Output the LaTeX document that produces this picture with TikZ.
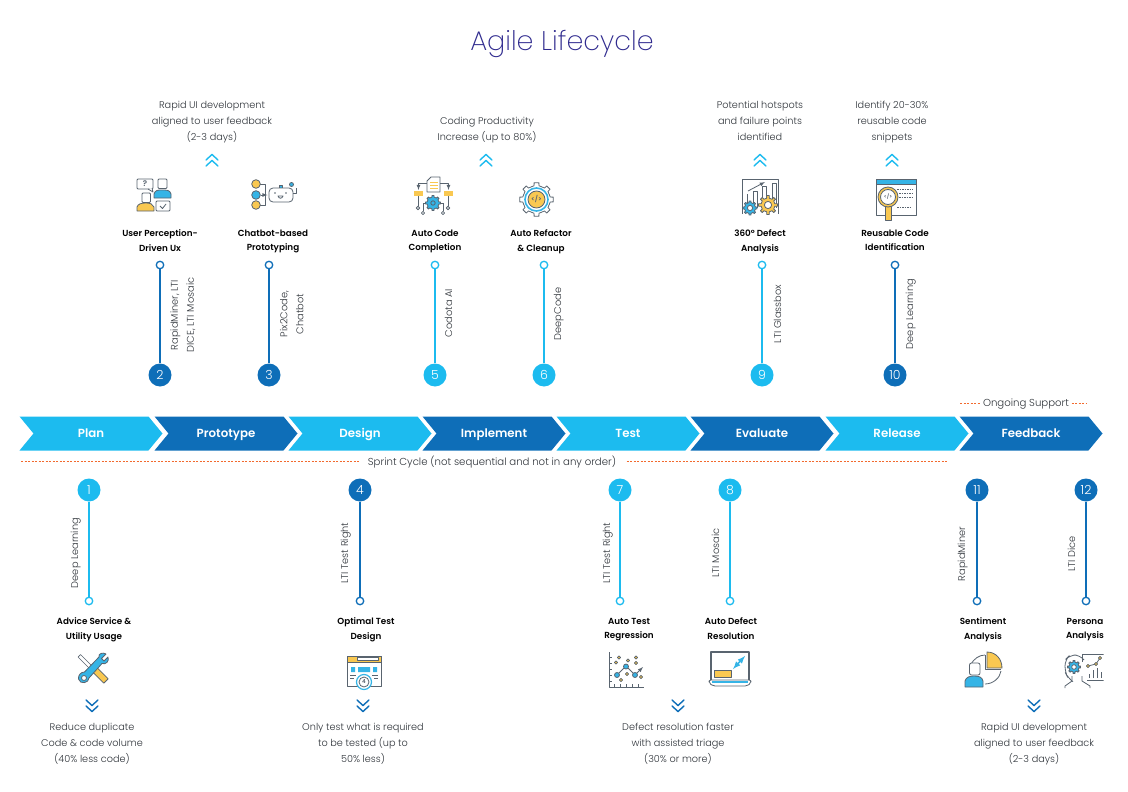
\documentclass[tikz,border=0pt]{standalone}
\usepackage{fontspec}
\setmainfont{Poppins}[UprightFont=* Light, BoldFont=* SemiBold]
\newfontfamily\titlefont{Poppins}[UprightFont=* ExtraLight]
\usetikzlibrary{shapes.symbols}

\definecolor{skyblue}{HTML}{1CBBEF}
\definecolor{deepblue}{HTML}{0E6EB8}
\definecolor{dashorange}{HTML}{F26A2E}
\definecolor{textgrey}{HTML}{2F343A}
\definecolor{icongrey}{HTML}{59646F}
\definecolor{iconblue}{HTML}{35B4E6}
\definecolor{iconyellow}{HTML}{F9C851}
\definecolor{titleblue}{HTML}{2F2A8E}

\tikzset{
	lined/.style={execute at begin node=\strut, execute at end node=\strut},
	phase/.style={signal, signal to=east, signal from=west, signal pointer angle=101,
		minimum width=143, minimum height=34, inner sep=0, outer sep=0,
		text height=8.4, text depth=0,
		text=white, font=\fontsize{11.8}{13}\selectfont\bfseries},
	num/.style={circle, fill=#1, minimum size=23, inner sep=0, text=white,
		font=\fontsize{12.5}{14}\selectfont},
	ring/.style={circle, draw=#1, fill=white, line width=1.3, minimum size=7.5, inner sep=0},
	stem/.style={draw=#1, line width=1.7},
	steptitle/.style={lined, yshift=-2, align=center, inner sep=0, text=black, font=\fontsize{8.8}{14.6}\selectfont\bfseries},
	tool/.style={lined, rotate=90, align=center, inner sep=0, text=textgrey, font=\fontsize{9.8}{16}\selectfont},
	benefit/.style={lined, yshift=-2, align=center, inner sep=0, text=textgrey, font=\fontsize{9.7}{16}\selectfont},
	note/.style={text height=7, text depth=0, text=textgrey, font=\fontsize{10.15}{12}\selectfont},
	dashline/.style={draw=dashorange, line width=0.9, dash pattern=on 2.2 off 1.3},
	chev/.style={draw=#1, line width=1.4, line cap=round, line join=miter},
	icon/.style={draw=icongrey, line width=0.8, line join=round},
	glyph/.style={inner sep=0, text=icongrey, font=\fontsize{#1}{#1}\selectfont\bfseries}
}

\newcommand{\gearshape}[5]{% x, y, inner radius, outer radius, fill
	\draw[icon, fill=#5, shift={(#1,#2)}] (-10:#3) \foreach \a in {0,45,...,315} {
		-- (\a-10:#3) -- (\a-8:#4) -- (\a+8:#4) -- (\a+10:#3) -- (\a+35:#3)} -- cycle;
}

\begin{document}
\begin{tikzpicture}[x=1pt, y=-1pt]
		\useasboundingbox (0,0) rectangle (1128,792);
		
		\node[text=titleblue, font=\fontsize{27}{30}\selectfont\titlefont] (title) at (562,43.5) {Agile Lifecycle};
		
		% Phases
		\node[phase, fill=skyblue]  (plan)      at (91,433.5)   {Plan};
		\node[phase, fill=deepblue] (prototype) at (226,433.5)  {Prototype};
		\node[phase, fill=skyblue]  (design)    at (360,433.5)  {Design};
		\node[phase, fill=deepblue] (implement) at (494,433.5)  {Implement};
		\node[phase, fill=skyblue]  (test)      at (628,433.5)  {Test};
		\node[phase, fill=deepblue] (evaluate)  at (762,433.5)  {Evaluate};
		\node[phase, fill=skyblue]  (release)   at (897,433.5)  {Release};
		\node[phase, fill=deepblue] (feedback)  at (1031,433.5) {Feedback};
		
		% Sprint cycle and ongoing support
		\coordinate (sprintL) at (21,461.5);
		\coordinate (sprintR) at (948,461.5);
		\draw[dashline] (sprintL) -- (sprintR);
		\node[note, fill=white, inner xsep=9, inner ysep=1.5] (sprint) at (492,461.5)
		{Sprint Cycle (not sequential and not in any order)};
		
		\node[note, inner xsep=2.5, inner ysep=0] (ongoing) at (1026,403) {Ongoing Support};
		\coordinate (ongoingL) at (960,403);
		\coordinate (ongoingR) at (1087,403);
		\draw[dashline] (ongoingL) -- (ongoing);
		\draw[dashline] (ongoing) -- (ongoingR);
		
		% Upper stems
		\node[num=deepblue] (n2)  at (160,375) {2};
		\node[ring=deepblue] (r2)  at (160,265) {};
		\draw[stem=deepblue] (n2) -- (r2);
		\node[num=deepblue] (n3)  at (269,375) {3};
		\node[ring=deepblue] (r3)  at (269,265) {};
		\draw[stem=deepblue] (n3) -- (r3);
		\node[num=skyblue]  (n5)  at (435,375) {5};
		\node[ring=skyblue] (r5)  at (435,265) {};
		\draw[stem=skyblue] (n5) -- (r5);
		\node[num=skyblue]  (n6)  at (544,375) {6};
		\node[ring=skyblue] (r6)  at (544,265) {};
		\draw[stem=skyblue] (n6) -- (r6);
		\node[num=skyblue]  (n9)  at (762,375) {9};
		\node[ring=skyblue] (r9)  at (762,265) {};
		\draw[stem=skyblue] (n9) -- (r9);
		\node[num=deepblue] (n10) at (895,375) {10};
		\node[ring=deepblue] (r10) at (895,265) {};
		\draw[stem=deepblue] (n10) -- (r10);
		
		% Lower stems
		\node[num=skyblue]  (n1)  at (89,490)  {1};
		\node[ring=skyblue] (r1)  at (89,601)  {};
		\draw[stem=skyblue] (n1) -- (r1);
		\node[num=deepblue] (n4)  at (360,490) {4};
		\node[ring=deepblue] (r4)  at (360,601) {};
		\draw[stem=deepblue] (n4) -- (r4);
		\node[num=skyblue]  (n7)  at (620,490) {7};
		\node[ring=skyblue] (r7)  at (620,601) {};
		\draw[stem=skyblue] (n7) -- (r7);
		\node[num=skyblue]  (n8)  at (730,490) {8};
		\node[ring=skyblue] (r8)  at (730,601) {};
		\draw[stem=skyblue] (n8) -- (r8);
		\node[num=deepblue] (n11) at (977,490) {11};
		\node[ring=deepblue] (r11) at (977,601) {};
		\draw[stem=deepblue] (n11) -- (r11);
		\node[num=deepblue] (n12) at (1086,490) {12};
		\node[ring=deepblue] (r12) at (1086,601) {};
		\draw[stem=deepblue] (n12) -- (r12);
		
		% Tools beside the stems
		\node[tool] (tool2)  at (184.5,315) {RapidMiner, LTI\\DICE, LTI Mosaic};
		\node[tool] (tool3)  at (294,314) {Pix2Code,\\Chatbot};
		\node[tool] (tool5)  at (449,313) {Codota AI};
		\node[tool] (tool6)  at (558,314) {DeepCode};
		\node[tool] (tool9)  at (778,314) {LTI Glassbox};
		\node[tool] (tool10) at (910,314) {Deep Learning};
		\node[tool] (tool1)  at (75,553)  {Deep Learning};
		\node[tool] (tool4)  at (345,553) {LTI Test Right};
		\node[tool] (tool7)  at (607,553) {LTI Test Right};
		\node[tool] (tool8)  at (716,553) {LTI Mosaic};
		\node[tool] (tool11) at (962,554) {RapidMiner};
		\node[tool] (tool12) at (1072,554) {LTI Dice};
		
		% Step titles
		\node[steptitle] (step2)  at (160,240.5) {User Perception-\\Driven Ux};
		\node[steptitle] (step3)  at (273,240.5) {Chatbot-based\\Prototyping};
		\node[steptitle] (step5)  at (435,240.5) {Auto Code\\Completion};
		\node[steptitle] (step6)  at (541,240.5) {Auto Refactor\\\& Cleanup};
		\node[steptitle] (step9)  at (760,240.5) {360° Defect\\Analysis};
		\node[steptitle] (step10) at (895,240.5) {Reusable Code\\Identification};
		\node[steptitle] (step1)  at (94,628.5)  {Advice Service \&\\Utility Usage};
		\node[steptitle] (step4)  at (366,628.5) {Optimal Test\\Design};
		\node[steptitle] (step7)  at (629,628.5) {Auto Test\\Regression};
		\node[steptitle] (step8)  at (731,628.5) {Auto Defect\\Resolution};
		\node[steptitle] (step11) at (983,628.5) {Sentiment\\Analysis};
		\begin{scope}
			\clip (1040,610) rectangle (1103.5,700);
			\node[steptitle] (step12) at (1085,628.5) {Persona\\Analysis};
		\end{scope}
		
		% Benefits, upper row
		\node[benefit] (gain2) at (212,121) {Rapid UI development\\aligned to user feedback\\(2-3 days)};
		\node[benefit] (gain5) at (487,129) {Coding Productivity\\Increase (up to 80\%)};
		\node[benefit] (gain9) at (760,121) {Potential hotspots\\and failure points\\identified};
		\node[benefit] (gain10) at (892,121) {Identify 20-30\%\\reusable code\\snippets};
		
		% Benefits, lower row
		\node[benefit] (gain1) at (92,743)  {Reduce duplicate\\Code \& code volume\\(40\% less code)};
		\node[benefit] (gain4) at (363,743) {Only test what is required\\to be tested (up to\\50\% less)};
		\node[benefit] (gain7) at (678,743) {Defect resolution faster\\with assisted triage\\(30\% or more)};
		\node[benefit] (gain11) at (1034,743) {Rapid UI development\\aligned to user feedback\\(2-3 days)};
		
		% Double chevrons
		\foreach \cx in {212,486,760,892} {
			\draw[chev=skyblue] (\cx-6,160) -- (\cx,154.5) -- (\cx+6,160);
			\draw[chev=skyblue] (\cx-6,166) -- (\cx,160.5) -- (\cx+6,166);
		}
		\foreach \cx in {92,363,678,1034} {
			\draw[chev=deepblue] (\cx-6,700) -- (\cx,705.5) -- (\cx+6,700);
			\draw[chev=deepblue] (\cx-6,706) -- (\cx,711.5) -- (\cx+6,706);
		}
		
		% User perception icon
		\draw[icon, fill=white, rounded corners=1] (137,179) rectangle (153,189);
		\draw[icon, fill=white] (148,189) -- (153,192) -- (152,188);
		\node[glyph=8] (ask) at (145,184) {?};
		\draw[icon, fill=iconblue] (154,198) -- (154,194) .. controls (155,190) and (158,190) .. (162,190) .. controls (167,190) and (170,190) .. (171,194) -- (171,198) -- cycle;
		\draw[icon, fill=white, rounded corners=1] (158,179) rectangle (167,188.5);
		\draw[icon, fill=iconyellow] (137,211) -- (137,207) .. controls (138,204) and (141,203) .. (146,203) .. controls (150,203) and (153,204) .. (154,207) -- (154,211) -- cycle;
		\draw[icon, fill=white, rounded corners=1] (142,193) rectangle (150.5,202.5);
		\draw[icon, fill=white, rounded corners=1] (156,201) rectangle (170,211);
		\draw[icon] (160,206) -- (162.5,208.5) -- (166,204);
		
		% Chatbot icon
		\draw[icon] (260,184) -- (265,184) -- (265,205) -- (260,205);
		\draw[icon, -latex] (260.5,195) -- (267.5,195);
		\draw[icon, fill=iconyellow] (256,184) circle (4.3);
		\draw[icon, fill=iconblue] (256,195) circle (4.3);
		\draw[icon, fill=iconyellow] (256,205) circle (4.3);
		\draw[icon, fill=iconblue] (279,185.5) rectangle (282,188);
		\draw[icon, fill=white, rounded corners=4] (269,188) rectangle (293,202);
		\draw[icon] (293,193) -- (296,193) -- (296,188);
		\draw[icon, fill=iconblue] (291.5,184.5) circle (2);
		\fill[icongrey] (275,193) circle (0.9) (286,193) circle (0.9);
		\draw[icon] (278,196) .. controls (279,199) and (282,199) .. (283,196) -- cycle;
		
		% Auto code icon
		\draw[icon, fill=white] (427,181) -- (431,177) -- (440,177) -- (440,192) -- (427,192) -- cycle;
		\draw[iconyellow, line width=1] (430,182) -- (437.5,182) (430,185) -- (437.5,185) (430,188) -- (437.5,188);
		\draw[icon, -latex] (427,183) -- (418.5,183) -- (418.5,190);
		\draw[icon, -latex] (440,183) -- (448.5,183) -- (448.5,190);
		\fill[iconyellow] (414,191) rectangle (423,196);
		\fill[iconyellow] (444,191) rectangle (453,196);
		\draw[icon] (418,196) -- (418,206) (423,203) -- (423,211) (443,203) -- (443,211) (448,196) -- (448,206) (423,203) -- (443,203);
		\draw[icon, fill=white] (418,208) circle (1.8) (423,213) circle (1.6) (443,213) circle (1.6) (448,208) circle (1.8);
		\gearshape{433}{203}{6}{7.5}{iconblue}
		\draw[icon, fill=iconblue] (433,203) circle (2.2);
		
		% Auto refactor icon
		\gearshape{536.5}{199.5}{14}{17}{white}
		\draw[draw=iconblue, line width=1.6, fill=white] (536.5,199.5) circle (11.5);
		\draw[icon, fill=iconyellow] (536.5,199.5) circle (8.5);
		\node[glyph=6.5] (code) at (536.5,199.5) {</>};
		
		% Defect analysis icon
		\draw[icon] (742,214) -- (742,179) -- (778,179) -- (778,214);
		\draw[icon] (747,208) -- (747,194) (753,208) -- (753,191) -- (757,191) -- (757,208) (762,200) -- (762,186) -- (766,186) -- (766,200) (772,200) -- (772,183) -- (776,183) -- (776,208);
		\draw[icon, -latex] (748,191) -- (765,182);
		\gearshape{750}{208}{5.5}{7}{iconblue}
		\draw[icon, fill=white] (750,208) circle (2.6);
		\gearshape{768}{205}{7}{9.5}{iconyellow}
		\draw[icon, fill=white] (768,205) circle (3.6);
		
		% Reusable code icon
		\draw[icon, fill=white] (876,179) rectangle (916,215);
		\draw[icon, fill=iconblue] (876,179) rectangle (916,184);
		\draw[icongrey, line width=0.9, dash pattern=on 1.5 off 1] (897,189) -- (913,189) (899,193) -- (913,193) (899,197) -- (913,197) (897,207) -- (912,207);
		\draw[icon, fill=iconyellow] (885,206) rectangle (891,220);
		\draw[icon, fill=iconyellow] (888,197) circle (10);
		\draw[icon, fill=white] (888,197) circle (7.5);
		\node[glyph=5] (snippet) at (888,197) {</>};
		
		% Advice service icon
		\draw[icon, fill=white, line width=0.7] (78,657) -- (80.5,654.5) -- (98,672) -- (95.5,674.5) -- cycle;
		\draw[icon, fill=iconyellow] (97.2,667.8) -- (108.2,678.8) -- (103.8,683.2) -- (92.8,672.2) -- cycle;
		\draw[icon, fill=iconblue] (84.5,672) -- (99,657) .. controls (98,653.5) and (103,652) .. (106,654) -- (101.5,658.5) -- (104,661) -- (108,657) .. controls (109.5,661) and (106,665) .. (102,663.5) -- (89,678) .. controls (89,683) and (80,685) .. (78.5,679) .. controls (78,675) and (81,672) .. (84.5,672) -- cycle;
		\draw[icon, fill=white] (84,678) circle (2.5);
		
		% Optimal test icon
		\draw[icon, fill=white] (347,656) rectangle (381,686);
		\draw[icon, fill=iconyellow] (347,656) rectangle (381,662);
		\draw[icon, fill=white] (357,657.5) rectangle (378,660.5);
		\fill[iconblue] (351,667) rectangle (355,672) (358,667) rectangle (370,672) (373,667) rectangle (377,672);
		\draw[icongrey, line width=0.6] (350,675) -- (356,675) (372,675) -- (378,675) (350,678) -- (354,678) (374,678) -- (378,678);
		\draw[draw=iconblue, line width=1.2, fill=white] (364,682) circle (7.5);
		\draw[icon, fill=white] (364,682) circle (5);
		\node[glyph=5.5] (stopwatch) at (364,682) {4};
		
		% Test regression icon
		\draw[icon] (609,652) -- (609,687) -- (644,687);
		\foreach \ty in {657,663,669,675,681} {
			\draw[icon, line width=0.6] (609,\ty) -- (612,\ty);
		}
		\foreach \tx in {614,620,626,632,638} {
			\draw[icon, line width=0.6] (\tx,687) -- (\tx,684);
		}
		\draw[icon, -latex] (617,675) -- (626,666) -- (635,675) -- (643,667);
		\draw[icon, fill=iconblue] (617,675) circle (2.5) (626,666.5) circle (2.5) (635,675) circle (2.5);
		\draw[icon, fill=iconyellow] (619,657.5) circle (1.6) (616,662.5) circle (1.6) (628,660.5) circle (1.6) (636,657.5) circle (1.6) (636,663) circle (1.6) (627,674) circle (1.6) (621,680) circle (1.6) (641,677) circle (1.6);
		
		% Auto defect icon
		\draw[icon, line width=1.1] (711,680) -- (711,652) -- (749,652) -- (749,680);
		\fill[iconyellow] (714,670) rectangle (731,677);
		\draw[icon] (714,677) rectangle (731,670);
		\draw[iconblue, line width=1.6, latex-latex] (733,669) -- (745,656);
		\draw[icon, fill=white, rounded corners=2] (709,680) -- (751,680) -- (751,683) -- (747,686) -- (713,686) -- (709,683) -- cycle;
		\fill[iconblue] (712,680.8) rectangle (748,683);
		
		% Sentiment icon
		\draw[icon] (985,655) .. controls (979,655) and (974,659) .. (971,664);
		\draw[icon] (1001,671) .. controls (1000,678) and (993,684) .. (985,684);
		\draw[icon] (985,655) -- (985,669) -- (1001,669);
		\draw[icon, fill=iconyellow] (987,652) .. controls (995.8,652) and (1002,659) .. (1002,668) -- (987,668) -- cycle;
		\draw[icon, fill=iconblue] (965,687) -- (965,681) .. controls (966,677) and (970,676) .. (974,676) .. controls (979,676) and (982,677) .. (983,681) -- (983,687) -- cycle;
		\draw[icon, fill=white, rounded corners=2] (969.5,663) rectangle (980,675);
		
		% Persona icon
		\begin{scope}
			\clip (1040,640) rectangle (1103.5,700);
			\draw[icon, rounded corners=6] (1072,681) -- (1068,678) -- (1065,672) -- (1065,660) -- (1070,655) -- (1080,655) -- (1084,660);
			\draw[icon] (1065,688) -- (1065,686) -- (1072,681) -- (1072,676) (1082,676) -- (1082,681) -- (1090,686) -- (1090,688);
			\draw[icon] (1082,662) -- (1082,654) -- (1110,654) -- (1110,680) -- (1087,680);
			\gearshape{1074}{667}{5}{6.5}{iconblue}
			\draw[icon, fill=white] (1074,667) circle (2.3);
			\draw[icon] (1088,666) -- (1096,664) -- (1100,658);
			\draw[icon, fill=iconyellow] (1088,666) circle (1.6) (1096,664) circle (1.6) (1100,658) circle (1.6);
			\draw[icon] (1089,678) -- (1089,674) (1093,678) -- (1093,670) (1097,678) -- (1097,668) (1101,678) -- (1101,672);
		\end{scope}
		
\end{tikzpicture}
\end{document}
